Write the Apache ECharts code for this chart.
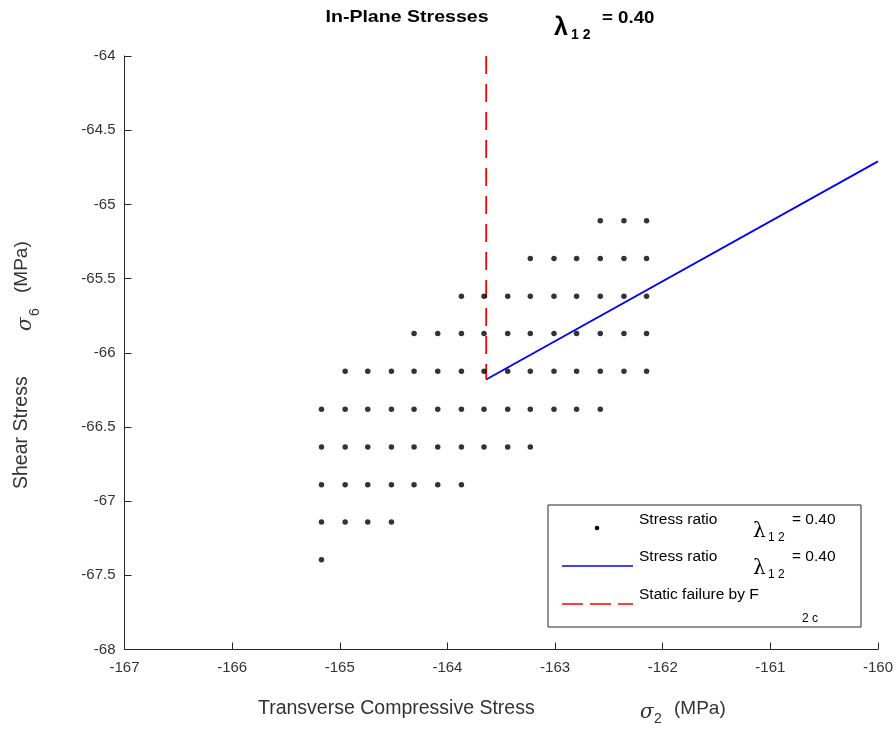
<!DOCTYPE html>
<html><head><meta charset="utf-8">
<script src="https://cdn.jsdelivr.net/npm/echarts@6/dist/echarts.min.js"></script>
<style>html,body{margin:0;padding:0;background:#fff}#c{width:896px;height:729px}</style>
</head><body><div id="c"></div>
<script>
// ---- data ----
const rowY = [-65.11, -65.365, -65.62, -65.87, -66.125, -66.38, -66.635, -66.89, -67.14, -67.395];
const rowX = [
  [-162.58, -162.36, -162.15],
  [-163.23, -163.01, -162.80, -162.58, -162.36, -162.15],
  [-163.87, -163.66, -163.44, -163.23, -163.01, -162.80, -162.58, -162.36, -162.15],
  [-164.31, -164.09, -163.87, -163.66, -163.44, -163.23, -163.01, -162.80, -162.58, -162.36, -162.15],
  [-164.95, -164.74, -164.52, -164.31, -164.09, -163.87, -163.66, -163.44, -163.23, -163.01, -162.80, -162.58, -162.36, -162.15],
  [-165.17, -164.95, -164.74, -164.52, -164.31, -164.09, -163.87, -163.66, -163.44, -163.23, -163.01, -162.80, -162.58],
  [-165.17, -164.95, -164.74, -164.52, -164.31, -164.09, -163.87, -163.66, -163.44, -163.23],
  [-165.17, -164.95, -164.74, -164.52, -164.31, -164.09, -163.87],
  [-165.17, -164.95, -164.74, -164.52],
  [-165.17]
];
const ratioLineX = [-163.64, -160];
const ratioLineY = [-66.18, -64.71];
const failLineX = [-163.64, -163.64];
const failLineY = [-64, -66.18];
const xTicks = [-167, -166, -165, -164, -163, -162, -161, -160];
const yTicks = [-68, -67.5, -67, -66.5, -66, -65.5, -65, -64.5, -64];

const dots = [];
rowX.forEach((xs, i) => xs.forEach(x => dots.push([x, rowY[i]])));
const ratioLine = ratioLineX.map((x, i) => [x, ratioLineY[i]]);
const failLine = failLineX.map((x, i) => [x, failLineY[i]]);

const FONT = '"Liberation Sans", Arial, Helvetica, sans-serif';
const AX = '#262626';
const chart = echarts.init(document.getElementById('c'));

function t(x, y, text, size, opts) {
  opts = opts || {};
  return {type: 'text', x: x, y: y, rotation: opts.rot || 0, scaleX: opts.sx || 1, silent: true,
    style: {text: text, fill: opts.fill || '#000', align: opts.align || 'left', verticalAlign: opts.va || 'middle',
      font: (opts.style || '') + ' ' + (opts.weight || 'normal') + ' ' + size + 'px ' + (opts.family || FONT)}};
}

const graphics = [
  // title
  t(407, 17, 'In-Plane Stresses', 17, {weight: 'bold', align: 'center', sx: 1.15}),
  t(554, 28, 'λ', 25, {weight: 'bold'}),
  t(571, 35, '1 2', 14, {weight: 'bold'}),
  t(602, 18, '= 0.40', 17, {weight: 'bold', sx: 1.1}),
  // x axis name
  t(258, 709, 'Transverse Compressive Stress', 19.5, {fill: '#333'}),
  t(640, 713, 'σ', 20, {fill: '#333', style: 'italic', family: '"DejaVu Serif", serif'}),
  t(654, 719, '2', 14, {fill: '#333'}),
  t(674, 709, '(MPa)', 19, {fill: '#333'}),
  // y axis name (rotated)
  t(22, 489, 'Shear Stress', 19.5, {fill: '#333', rot: Math.PI / 2}),
  t(26, 331, 'σ', 20, {fill: '#333', rot: Math.PI / 2, style: 'italic', family: '"DejaVu Serif", serif'}),
  t(35, 316, '6', 14, {fill: '#333', rot: Math.PI / 2}),
  t(22, 293, '(MPa)', 19, {fill: '#333', rot: Math.PI / 2}),
  // legend box
  {type: 'rect', shape: {x: 548, y: 505, width: 313, height: 122}, silent: true,
    style: {fill: '#fff', stroke: AX, lineWidth: 1}},
  {type: 'circle', shape: {cx: 597, cy: 528, r: 2.3}, silent: true, style: {fill: '#000'}},
  {type: 'line', shape: {x1: 562, y1: 566, x2: 633, y2: 566}, silent: true, style: {stroke: '#0000ff', lineWidth: 1.5}},
  {type: 'line', shape: {x1: 562, y1: 604, x2: 633, y2: 604}, silent: true, style: {stroke: '#ff0000', lineWidth: 1.5, lineDash: [21, 7]}},
  t(639, 520, 'Stress ratio', 15.5),
  t(753, 532, 'λ', 20, {family: '"DejaVu Serif", serif'}),
  t(768, 538, '1 2', 12),
  t(792, 520, '= 0.40', 15.5),
  t(639, 557, 'Stress ratio', 15.5),
  t(753, 569, 'λ', 20, {family: '"DejaVu Serif", serif'}),
  t(768, 575, '1 2', 12),
  t(792, 557, '= 0.40', 15.5),
  t(639, 595, 'Static failure by F', 15.5),
  t(802, 619, '2 c', 12)
];

chart.setOption({
  animation: false,
  backgroundColor: '#fff',
  grid: {left: 124.5, right: 12, top: 56, bottom: 79.5, containLabel: false},
  xAxis: {
    type: 'value', min: xTicks[0], max: xTicks[xTicks.length - 1], interval: 1,
    axisLine: {show: true, onZero: false, lineStyle: {color: AX, width: 1}},
    axisTick: {show: true, inside: true, length: 7, lineStyle: {color: AX}},
    axisLabel: {color: '#333', fontSize: 15, fontFamily: FONT, margin: 11},
    splitLine: {show: false}
  },
  yAxis: {
    type: 'value', min: yTicks[0], max: yTicks[yTicks.length - 1], interval: 0.5,
    axisLine: {show: true, onZero: false, lineStyle: {color: AX, width: 1}},
    axisTick: {show: true, inside: true, length: 7, lineStyle: {color: AX}},
    axisLabel: {color: '#333', fontSize: 15, fontFamily: FONT, margin: 9},
    splitLine: {show: false}
  },
  series: [
    {type: 'scatter', data: dots, symbol: 'circle', symbolSize: 5.5, itemStyle: {color: '#000'}, silent: true, z: 3},
    {type: 'line', data: ratioLine, showSymbol: false, lineStyle: {color: '#0000ff', width: 1.8}, silent: true, z: 2},
    {type: 'line', data: failLine, showSymbol: false, lineStyle: {color: '#ff0000', width: 1.8, type: [18, 10]}, silent: true, z: 2}
  ],
  graphic: graphics
});
</script></body></html>
